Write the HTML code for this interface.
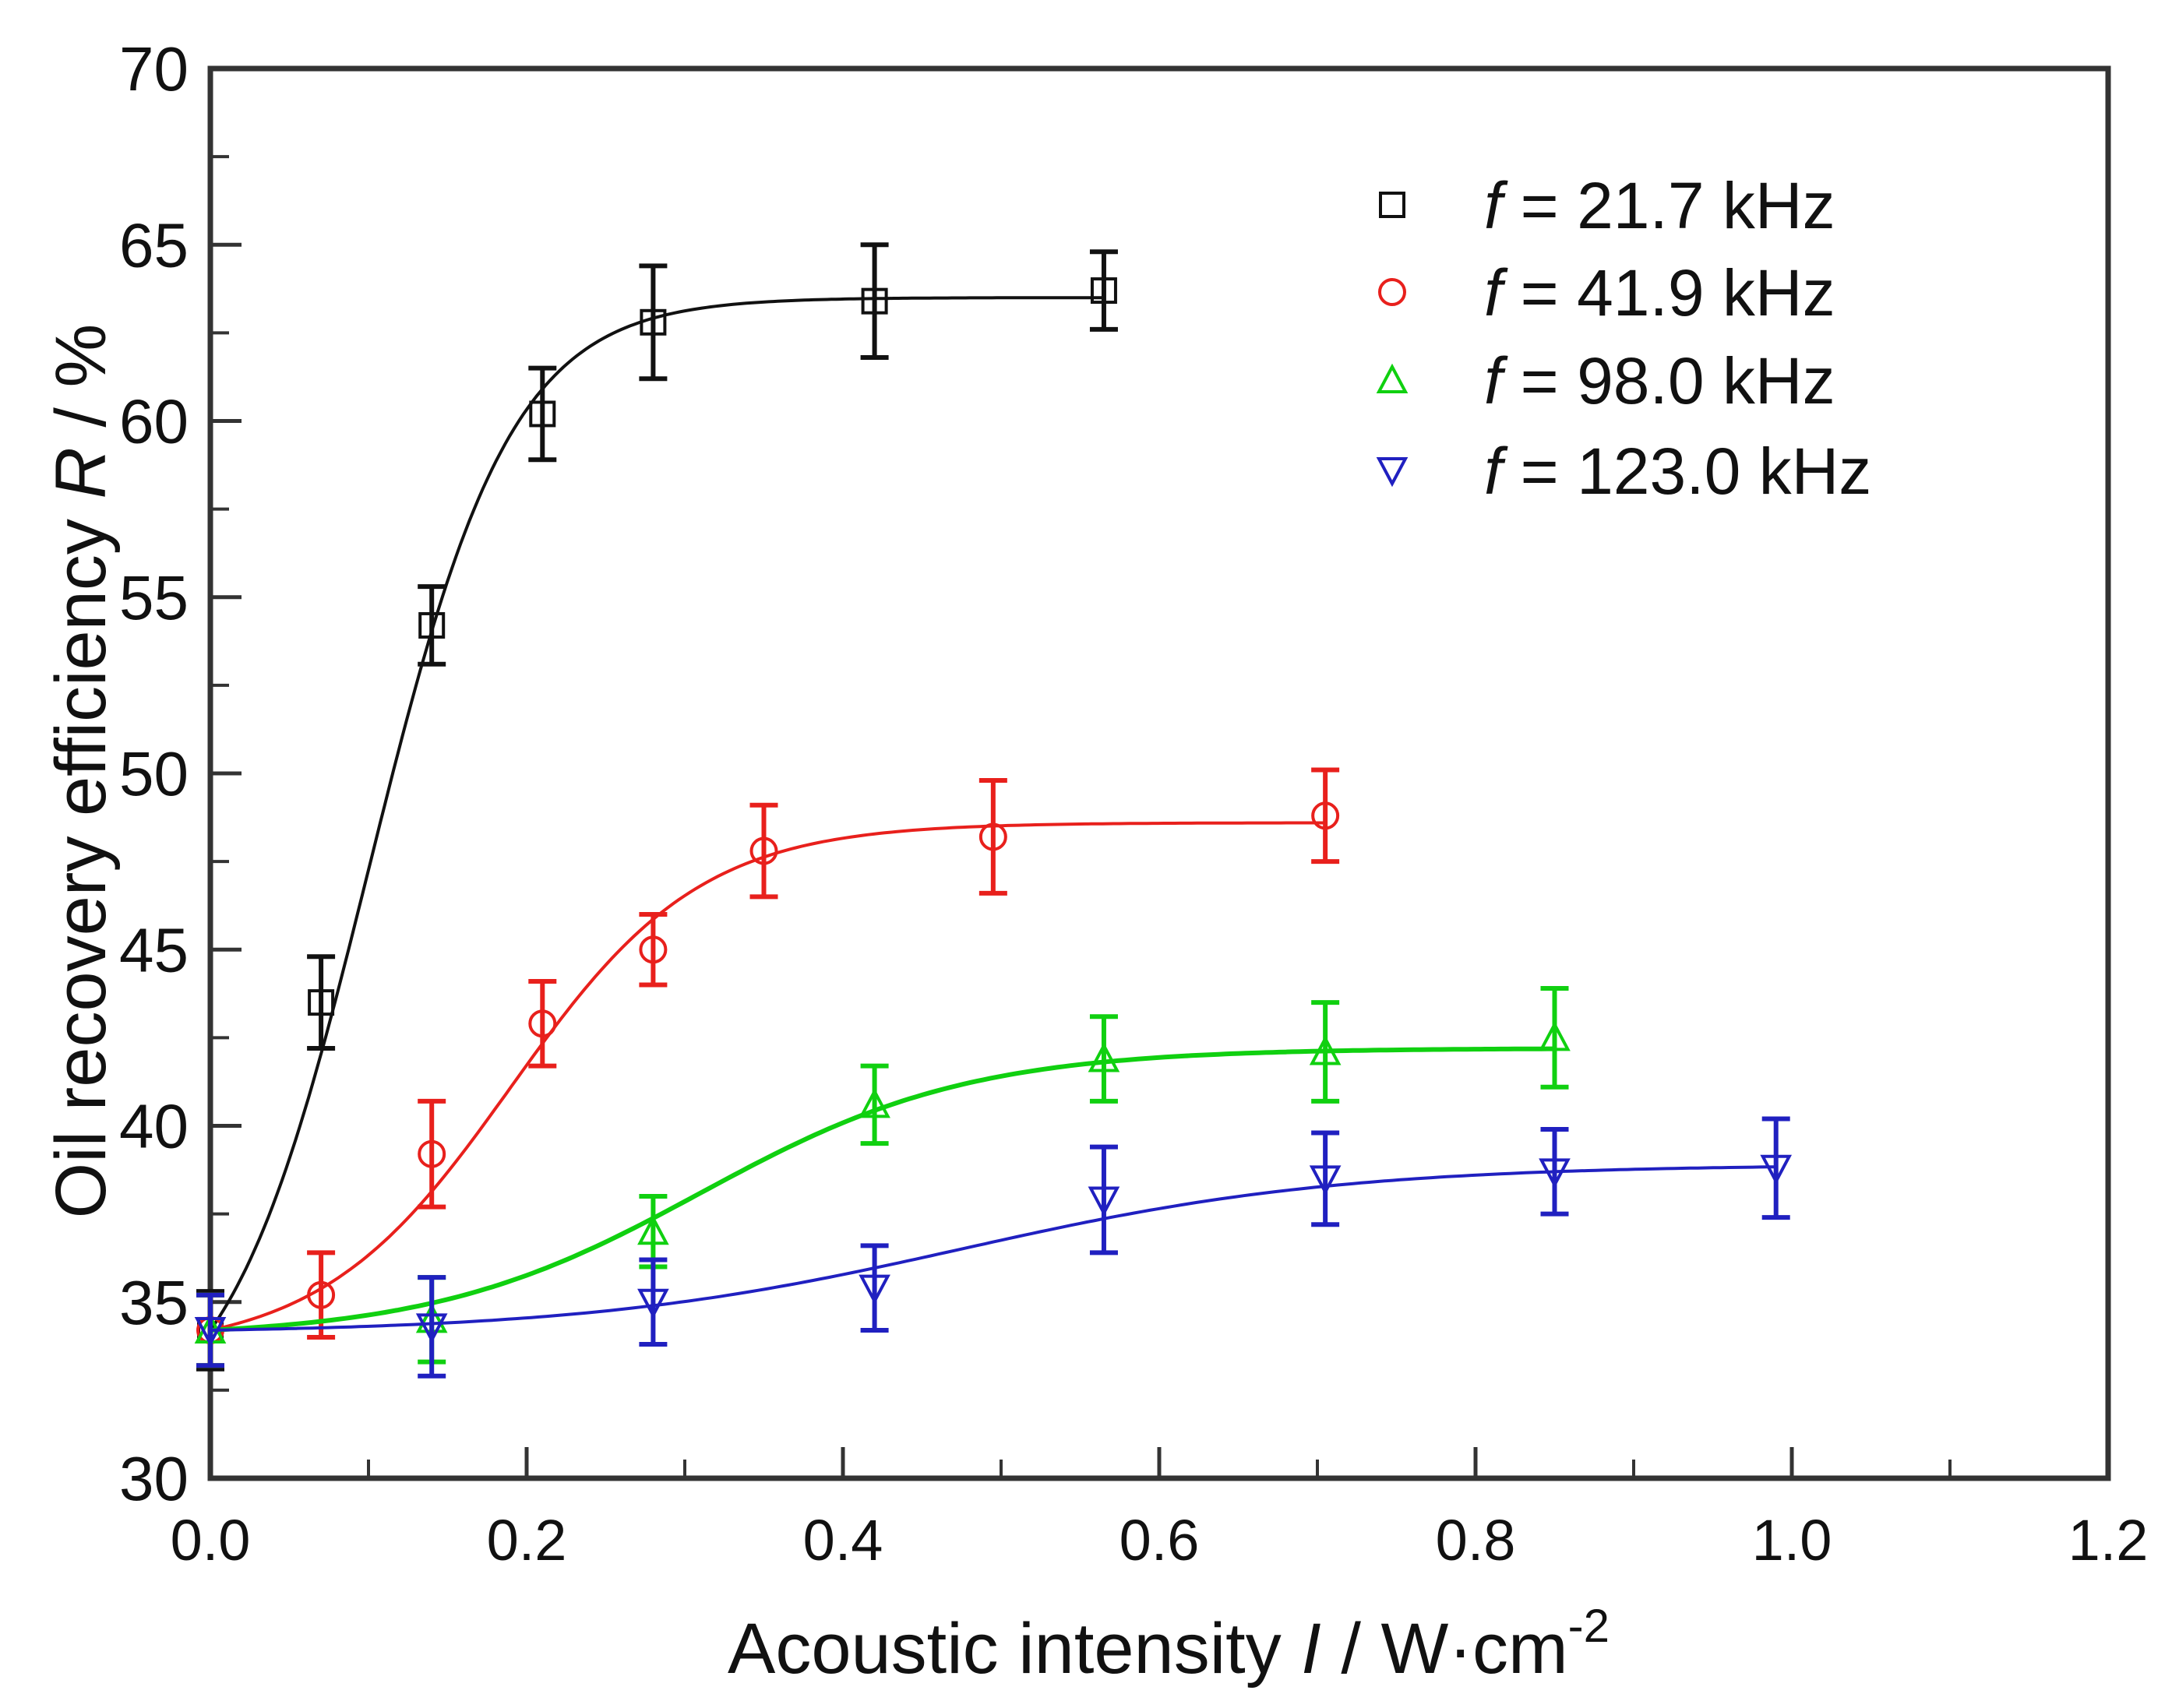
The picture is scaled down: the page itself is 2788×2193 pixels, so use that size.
<!DOCTYPE html>
<html><head><meta charset="utf-8"><style>
html,body{margin:0;padding:0;background:#fff;}
svg{display:block;font-family:"Liberation Sans",Arial,sans-serif;}
</style></head><body>
<svg id="chart" width="2788" height="2193" viewBox="0 0 2788 2193"></svg>
<script>
const xTicks=[0,0.2,0.4,0.6,0.8,1.0,1.2];
const xTickLabels=["0.0","0.2","0.4","0.6","0.8","1.0","1.2"];
const yTicks=[30,35,40,45,50,55,60,65,70];
const seriesNames=["f = 21.7 kHz","f = 41.9 kHz","f = 98.0 kHz","f = 123.0 kHz"];
const x1=[0,0.07,0.14,0.21,0.28,0.42,0.565];
const y1=[34.2,43.5,54.2,60.2,62.8,63.4,63.7];
const e1=[1.1,1.3,1.1,1.3,1.6,1.6,1.1];
const x2=[0,0.07,0.14,0.21,0.28,0.35,0.495,0.705];
const y2=[34.2,35.2,39.2,42.9,45.0,47.8,48.2,48.8];
const e2=[1.0,1.2,1.5,1.2,1.0,1.3,1.6,1.3];
const x3=[0,0.14,0.28,0.42,0.565,0.705,0.85];
const y3=[34.2,34.5,37.0,40.6,41.9,42.1,42.5];
const e3=[1.0,1.2,1.0,1.1,1.2,1.4,1.4];
const x4=[0,0.14,0.28,0.42,0.565,0.705,0.85,0.99];
const y4=[34.2,34.3,35.0,35.4,37.9,38.5,38.7,38.8];
const e4=[1.0,1.4,1.2,1.2,1.5,1.3,1.2,1.4];
const fitBase=[34.2,34.2,34.2,34.2];
const fitTop=[63.5,48.6,42.2,38.9];
const fitCenter=[0.1,0.19,0.31,0.475];
const fitWidth=[0.045,0.06,0.085,0.12];

const L=270,R=2706,T=88,B=1898;
const X=v=>L+(v-0)/1.2*(R-L);
const Y=v=>B-(v-30)/40*(B-T);
const NS="http://www.w3.org/2000/svg";
const svg=document.getElementById('chart');
function mk(t,a,p){const e=document.createElementNS(NS,t);for(const k in a)e.setAttribute(k,a[k]);(p||svg).appendChild(e);return e;}

const frame=mk('rect',{x:L,y:T,width:R-L,height:B-T,fill:'none',stroke:'#333','stroke-width':7});



xTicks.forEach((t,i)=>{
  const l=mk('line',{x1:X(t),x2:X(t),y1:B,y2:B-40,stroke:'#333','stroke-width':5});
  
  
  if(i<xTicks.length-1){const m=mk('line',{x1:X(t+0.1),x2:X(t+0.1),y1:B,y2:B-24,stroke:'#333','stroke-width':4});
  
  }
  const tx=mk('text',{x:X(t),y:B+105,'font-size':74,'text-anchor':'middle',fill:'#111'});
  tx.textContent=xTickLabels[i];
  
  
});
yTicks.forEach((t,i)=>{
  const l=mk('line',{x1:L,x2:L+40,y1:Y(t),y2:Y(t),stroke:'#333','stroke-width':5});
  
  
  if(i<yTicks.length-1){const m=mk('line',{x1:L,x2:L+24,y1:Y(t+2.5),y2:Y(t+2.5),stroke:'#333','stroke-width':4});
  
  }
  const tx=mk('text',{x:L-28,y:Y(t)+28,'font-size':80,'text-anchor':'end',fill:'#111'});
  tx.textContent=String(t);
  
  
});
const xt=mk('text',{x:1500,y:2148,'font-size':92,'text-anchor':'middle',fill:'#111'});
xt.innerHTML='Acoustic intensity <tspan font-style="italic">I</tspan> / W·cm<tspan dy="-40" font-size="60">-2</tspan>';


const yt=mk('text',{x:0,y:0,'font-size':92,'text-anchor':'middle',fill:'#111',transform:'translate(135,990) rotate(-90)'});
yt.innerHTML='Oil recovery efficiency <tspan font-style="italic">R</tspan> / %';



const colors=['#111','#e8201c','#10d010','#2020c0'];
const xs=[x1,x2,x3,x4],ys=[y1,y2,y3,y4],es=[e1,e2,e3,e4];
function marker(k,cx,cy,g){
  const s=15,c=colors[k];let e;
  if(k===0)e=mk('rect',{x:cx-s,y:cy-s,width:2*s,height:2*s,fill:'none',stroke:c,'stroke-width':4},g);
  else if(k===1)e=mk('circle',{cx:cx,cy:cy,r:s+1,fill:'none',stroke:c,'stroke-width':4},g);
  else if(k===2)e=mk('polygon',{points:`${cx},${cy-s-2} ${cx-s-2},${cy+s} ${cx+s+2},${cy+s}`,fill:'none',stroke:c,'stroke-width':4},g);
  else e=mk('polygon',{points:`${cx},${cy+s+2} ${cx-s-2},${cy-s} ${cx+s+2},${cy-s}`,fill:'none',stroke:c,'stroke-width':4},g);
  return e;
}
function fit(k,x){
  const f=v=>1/(1+Math.exp(-(v-fitCenter[k])/fitWidth[k]));
  const f0=f(0);
  return fitBase[k]+(fitTop[k]-fitBase[k])*(f(x)-f0)/(1-f0);
}
for(let k=0;k<4;k++){
  const g=mk('g',{});
  
  
  const xm=xs[k][xs[k].length-1];let d='';
  for(let i=0;i<=200;i++){const v=xm*i/200;d+=(i?'L':'M')+X(v).toFixed(1)+','+Y(fit(k,v)).toFixed(1);}
  const p=mk('path',{d:d,fill:'none',stroke:colors[k],'stroke-width':k===2?6:4},g);
  
  
  xs[k].forEach((xv,i)=>{
    const cx=X(xv),yv=ys[k][i],ev=es[k][i];
    const eb=mk('path',{d:`M${cx},${Y(yv+ev)}L${cx},${Y(yv-ev)}M${cx-18},${Y(yv+ev)}L${cx+18},${Y(yv+ev)}M${cx-18},${Y(yv-ev)}L${cx+18},${Y(yv-ev)}`,stroke:colors[k],'stroke-width':6,fill:'none'},g);
    
    
    const m=marker(k,cx,Y(yv),g);
    
    
  });
}
const lg=mk('g',{});


const rows=[263,375,488,604];
seriesNames.forEach((n,k)=>{
  const m=marker(k,1787,rows[k],lg);
  
  
  const t=mk('text',{x:1905,y:rows[k]+30,'font-size':84,fill:'#111'},lg);
  t.innerHTML='<tspan font-style="italic">f</tspan>'+n.slice(1);
  
  
});
</script>
</body></html>
